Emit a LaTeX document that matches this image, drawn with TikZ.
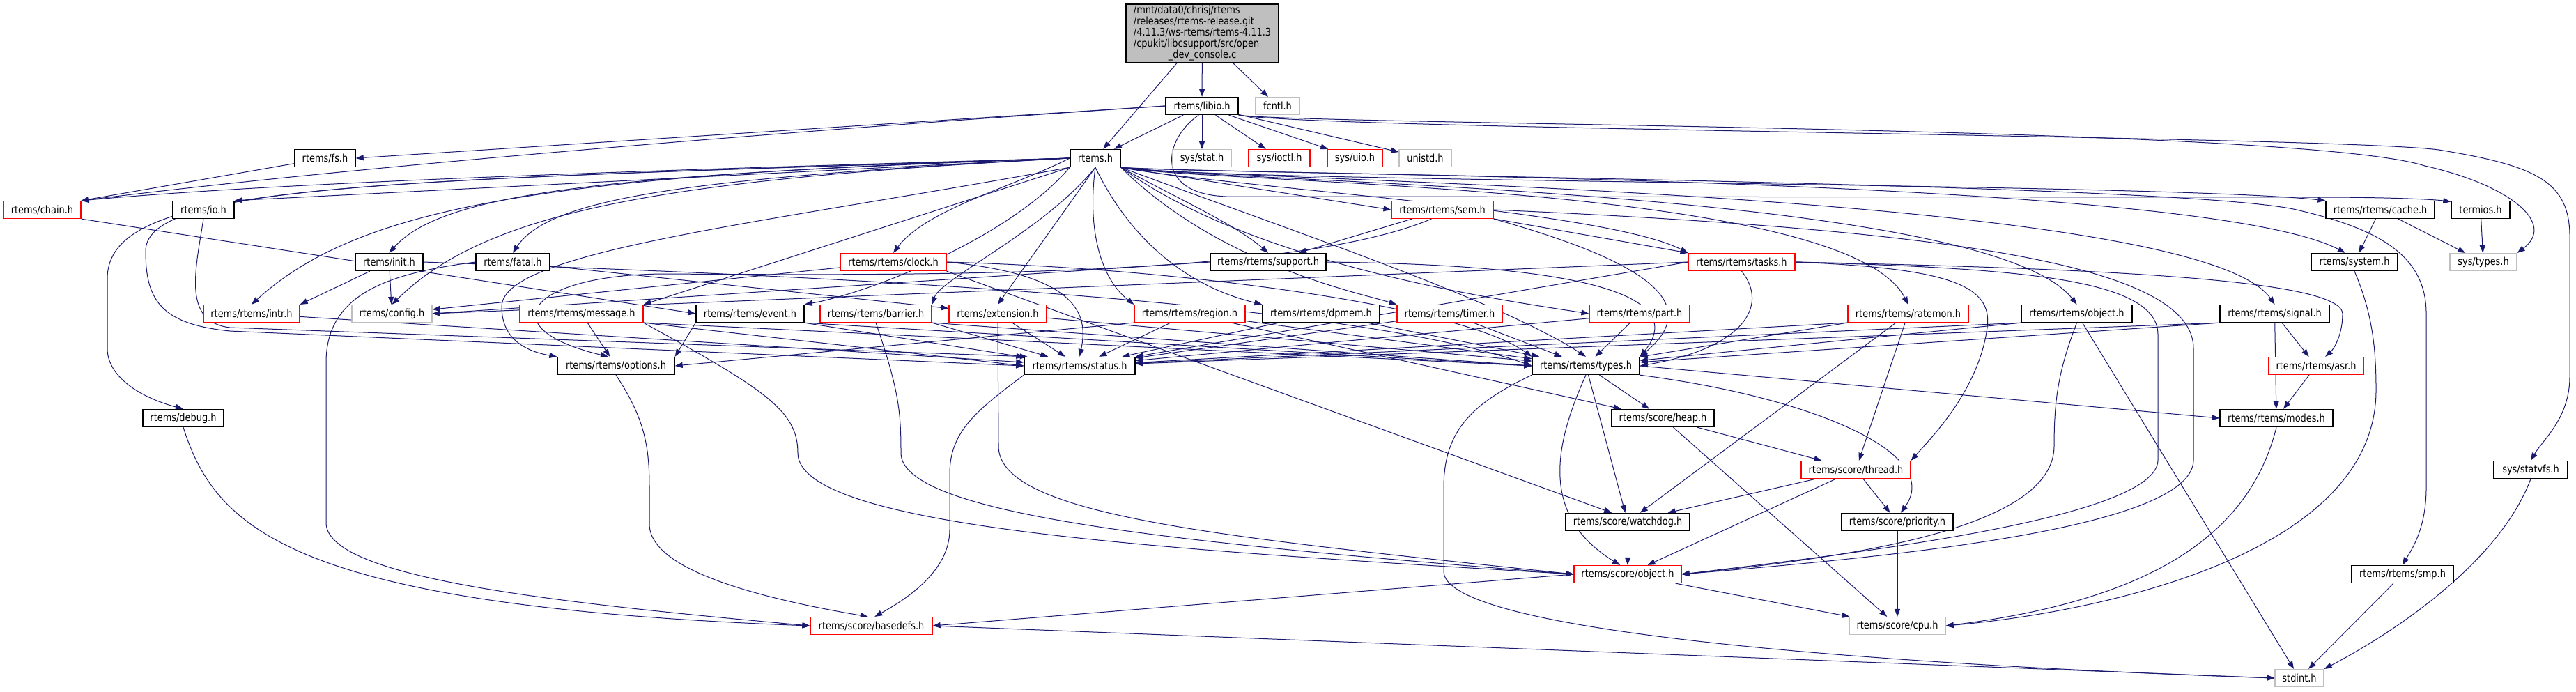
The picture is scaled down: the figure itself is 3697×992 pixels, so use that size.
\documentclass[tikz,border=0pt]{standalone}
\usepackage{fontspec}
\setmainfont{DejaVu Sans}[FakeStretch=0.85]
\usetikzlibrary{arrows.meta}
\definecolor{midnight}{RGB}{25,25,112}
\definecolor{lgray}{RGB}{191,191,191}
\definecolor{bred}{RGB}{255,0,0}
\pgfdeclarelayer{bg}
\pgfsetlayers{bg,main}
\begin{document}
\begin{tikzpicture}[x=0.5pt,y=-0.5pt,
  hdr/.style={rectangle, minimum height=12.5pt, inner sep=0pt, fill=white, text=black, font=\fontsize{7.6pt}{7.6pt}\selectfont},
  blk/.style={hdr, draw=black, line width=0.7pt},
  rdn/.style={hdr, draw=bred, line width=0.6pt},
  gry/.style={hdr, draw=lgray, line width=0.6pt},
  dep/.style={draw=midnight, line width=0.5pt, -{Triangle[length=5.5pt,width=4pt]}}]
\useasboundingbox (0,0) rectangle (3697,992);
% ---------------- nodes ----------------
\node[draw=black, line width=0.7pt, fill=lgray, minimum width=109.5pt, minimum height=42pt, inner sep=0pt,
      font=\fontsize{7.6pt}{7.5pt}\selectfont] (main) at (1725.5,48)
  {\begin{tabular}{@{}l@{}}/mnt/data0/chrisj/rtems\\/releases/rtems-release.git\\/4.11.3/ws-rtems/rtems-4.11.3\\/cpukit/libcsupport/src/open\\\multicolumn{1}{@{}c@{}}{\_dev\_console.c}\end{tabular}};
\node[blk, minimum width=52pt] (libio) at (1725,152) {rtems/libio.h};
\node[gry, minimum width=31.5pt] (fcntl) at (1833.5,152) {fcntl.h};
\node[blk, minimum width=43.5pt] (fs) at (466.5,227) {rtems/fs.h};
\node[blk, minimum width=36pt] (rtems) at (1572,227) {rtems.h};
\node[gry, minimum width=42pt] (sysstat) at (1725,227) {sys/stat.h};
\node[rdn, minimum width=44pt] (ioctl) at (1836,227) {sys/ioctl.h};
\node[rdn, minimum width=39.5pt] (uio) at (1944.5,227) {sys/uio.h};
\node[gry, minimum width=37.5pt] (unistd) at (2045.5,227) {unistd.h};
\node[rdn, minimum width=55.5pt] (chain) at (60.5,301) {rtems/chain.h};
\node[blk, minimum width=44pt] (io) at (292,301) {rtems/io.h};
\node[rdn, minimum width=73pt] (sem) at (2070,301) {rtems/rtems/sem.h};
\node[blk, minimum width=78pt] (cache) at (3416,301) {rtems/rtems/cache.h};
\node[blk, minimum width=42pt] (termios) at (3560,301) {termios.h};
\node[blk, minimum width=48.5pt] (init) at (558.5,376) {rtems/init.h};
\node[blk, minimum width=53pt] (fatal) at (736,376) {rtems/fatal.h};
\node[rdn, minimum width=76pt] (clock) at (1282,376) {rtems/rtems/clock.h};
\node[blk, minimum width=83pt] (support) at (1820,376) {rtems/rtems/support.h};
\node[rdn, minimum width=76.5pt] (tasks) at (2499.5,376) {rtems/rtems/tasks.h};
\node[blk, minimum width=62pt] (system) at (3379,376) {rtems/system.h};
\node[gry, minimum width=48pt] (systypes) at (3564,376) {sys/types.h};
\node[rdn, minimum width=69pt] (intr) at (361,450) {rtems/rtems/intr.h};
\node[gry, minimum width=57.5pt] (config) at (562.5,450) {rtems/config.h};
\node[rdn, minimum width=88.5pt] (message) at (834.5,450) {rtems/rtems/message.h};
\node[blk, minimum width=77.5pt] (event) at (1076.5,450) {rtems/rtems/event.h};
\node[rdn, minimum width=80pt] (barrier) at (1257,450) {rtems/rtems/barrier.h};
\node[rdn, minimum width=70pt] (extension) at (1432,450) {rtems/extension.h};
\node[rdn, minimum width=79.5pt] (region) at (1707.5,450) {rtems/rtems/region.h};
\node[blk, minimum width=84pt] (dpmem) at (1896,450) {rtems/rtems/dpmem.h};
\node[rdn, minimum width=75.5pt] (timer) at (2080.5,450) {rtems/rtems/timer.h};
\node[rdn, minimum width=72pt] (part) at (2353,450) {rtems/rtems/part.h};
\node[rdn, minimum width=86.5pt] (ratemon) at (2738.5,450) {rtems/rtems/ratemon.h};
\node[blk, minimum width=79.5pt] (robject) at (2980.5,450) {rtems/rtems/object.h};
\node[blk, minimum width=78.5pt] (signal) at (3264.5,450) {rtems/rtems/signal.h};
\node[blk, minimum width=84pt] (options) at (884,525) {rtems/rtems/options.h};
\node[blk, minimum width=79.5pt] (status) at (1549.5,525) {rtems/rtems/status.h};
\node[blk, minimum width=77pt] (types) at (2276,525) {rtems/rtems/types.h};
\node[rdn, minimum width=68pt] (asr) at (3324,525) {rtems/rtems/asr.h};
\node[blk, minimum width=58pt] (debug) at (263,600) {rtems/debug.h};
\node[blk, minimum width=73.5pt] (heap) at (2386.5,600) {rtems/score/heap.h};
\node[blk, minimum width=81pt] (modes) at (3267,600) {rtems/rtems/modes.h};
\node[rdn, minimum width=78.5pt] (thread) at (2663.5,674) {rtems/score/thread.h};
\node[blk, minimum width=53pt] (statvfs) at (3632,674) {sys/statvfs.h};
\node[blk, minimum width=89pt] (watchdog) at (2336,749) {rtems/score/watchdog.h};
\node[blk, minimum width=80pt] (priority) at (2723,749) {rtems/score/priority.h};
\node[rdn, minimum width=77pt] (sobject) at (2336,824) {rtems/score/object.h};
\node[blk, minimum width=73pt] (smp) at (3448,824) {rtems/rtems/smp.h};
\node[rdn, minimum width=87.5pt] (basedefs) at (1250.5,898) {rtems/score/basedefs.h};
\node[gry, minimum width=69pt] (cpu) at (2723,898) {rtems/score/cpu.h};
\node[gry, minimum width=35pt] (stdint) at (3300,973) {stdint.h};
% ---------------- edges ----------------
\begin{pgfonlayer}{bg}
% main
\draw[dep] (main) -- (libio);
\draw[dep] (main) -- (fcntl);
\draw[dep] (main) -- (rtems);
% libio
\draw[dep] (libio) -- (rtems);
\draw[dep] (libio) -- (sysstat);
\draw[dep] (libio) -- (ioctl);
\draw[dep] (libio) -- (uio);
\draw[dep] (libio) -- (unistd);
\draw[dep] (libio.west) -- (fs.east);
\draw[dep] (libio.west) .. controls (1100,190) and (500,240) .. (chain.north east);
\draw[dep] (libio.south east) .. controls (1900,180) and (3300,180) .. (3480,238) .. controls (3600,265) and (3670,320) .. (systypes.north east);
\draw[dep] (libio.south east) .. controls (1900,186) and (3350,195) .. (3500,215) .. controls (3640,238) and (3688,260) .. (3688,340) -- (3688,540) .. controls (3688,600) and (3650,630) .. (statvfs.north);
\draw[dep] (libio.250) .. controls (1670,200) and (1655,278) .. (1760,282) -- (3320,283) .. controls (3450,283) and (3500,287) .. (termios.165);
% fs
\draw[dep] (fs) -- (chain.north east);
% rtems
\draw[dep] (rtems.west) .. controls (900,245) and (400,262) .. (chain.north east);
\draw[dep] (rtems.west) -- (io.north east);
\draw[dep] (rtems.west) .. controls (900,250) and (640,272) .. (init.north);
\draw[dep] (rtems.west) .. controls (1000,255) and (790,282) .. (fatal.north);
\draw[dep] (rtems.west) .. controls (800,250) and (520,292) .. (intr.north);
\draw[dep] (rtems.west) .. controls (950,258) and (700,302) .. (config.north);
\draw[dep] (rtems.west) .. controls (500,262) and (154,260) .. (154,400) -- (154,500) .. controls (154,540) and (200,570) .. (debug.north);
\draw[dep] (rtems.west) .. controls (600,258) and (209,262) .. (209,360) .. controls (209,430) and (230,465) .. (330,475) -- (status.west);
\draw[dep] (rtems.south west) .. controls (1100,320) and (720,360) .. (720,440) .. controls (720,490) and (760,505) .. (options.north west);
\draw[dep] (rtems.south west) -- (message.north east);
\draw[dep] (rtems.west) .. controls (1450,270) and (1330,300) .. (clock.north);
\draw[dep] (rtems.south west) .. controls (1450,340) and (1250,420) .. (event.north east);
\draw[dep] (rtems.south) .. controls (1500,330) and (1350,400) .. (barrier.north east);
\draw[dep] (rtems.south) -- (extension.north);
\draw[dep] (rtems.south) .. controls (1560,330) and (1580,400) .. (region.north west);
\draw[dep] (rtems.south) .. controls (1620,340) and (1700,410) .. (dpmem.north west);
\draw[dep] (rtems.south east) .. controls (1680,280) and (1770,320) .. (support.north);
\draw[dep] (rtems.south east) .. controls (1750,380) and (1950,420) .. (timer.north west);
\draw[dep] (rtems.south east) .. controls (1800,380) and (2150,430) .. (part.west);
\draw[dep] (rtems.south east) .. controls (1850,330) and (2150,430) .. (types.north);
\draw[dep] (rtems.south east) -- (sem.west);
\draw[dep] (rtems.south east) .. controls (1750,268) and (2300,300) .. (tasks.north west);
\draw[dep] (rtems.south east) .. controls (1750,265) and (2650,262) .. (ratemon.north);
\draw[dep] (rtems.south east) .. controls (1750,262) and (2850,270) .. (robject.north);
\draw[dep] (rtems.south east) .. controls (1750,260) and (3150,272) .. (signal.north);
\draw[dep] (rtems.south east) .. controls (1750,262) and (3100,262) .. (cache.north west);
\draw[dep] (rtems.south east) .. controls (1750,252) and (3150,250) .. (system.135);
\draw[dep] (rtems.south east) .. controls (1750,250) and (3150,262) .. (3300,302) .. controls (3420,330) and (3482,370) .. (3482,450) -- (3482,700) .. controls (3482,760) and (3460,790) .. (smp.north);
% row 3 / 4 headers
\draw[dep] (chain.south east) -- (event.west);
\draw[dep] (io.south) .. controls (280,390) and (262,462) .. (330,470) -- (status.170);
\draw[dep] (init) -- (intr.north east);
\draw[dep] (init) -- (config);
\draw[dep] (init.east) .. controls (1000,390) and (1900,420) .. (types.west);
\draw[dep] (fatal.west) .. controls (560,392) and (468,420) .. (468,520) -- (468,750) .. controls (468,830) and (800,865) .. (basedefs.west);
\draw[dep] (fatal) -- (extension);
\draw[dep] (debug.south) .. controls (310,760) and (420,870) .. (basedefs.west);
\draw[dep] (intr) -- (status);
\draw[dep] (clock) -- (config);
\draw[dep] (clock.east) .. controls (1560,395) and (1560,460) .. (status.north);
\draw[dep] (clock.east) .. controls (1700,385) and (2100,440) .. (types.north west);
\draw[dep] (clock.south east) -- (watchdog.150);
\draw[dep] (sem) -- (support);
\draw[dep] (sem) -- (tasks.north west);
\draw[dep] (sem.220) .. controls (1850,400) and (1300,395) .. (950,393) .. controls (760,395) and (700,470) .. (options.130);
\draw[dep] (sem.south east) .. controls (2380,380) and (2440,440) .. (types.north east);
\draw[dep] (sem.east) .. controls (2800,330) and (3148,380) .. (3148,500) -- (3148,660) .. controls (3148,760) and (2700,800) .. (sobject.east);
\draw[dep] (support.east) .. controls (2300,380) and (2420,430) .. (types.north east);
\draw[dep] (support.west) -- (config.east);
\draw[dep] (tasks.west) -- (config.east);
\draw[dep] (tasks.west) -- (status.north east);
\draw[dep] (tasks.south) .. controls (2540,440) and (2500,500) .. (types.east);
\draw[dep] (tasks.east) .. controls (3000,385) and (3360,400) .. (3362,450) .. controls (3362,480) and (3350,500) .. (asr.45);
\draw[dep] (tasks.east) .. controls (2800,385) and (2860,410) .. (2852,470) .. controls (2840,560) and (2770,630) .. (thread.north east);
\draw[dep] (tasks.east) .. controls (2900,385) and (3097,400) .. (3097,480) -- (3097,660) .. controls (3097,740) and (2700,790) .. (sobject.east);
\draw[dep] (cache) -- (system);
\draw[dep] (cache) -- (systypes);
\draw[dep] (termios) -- (systypes);
\draw[dep] (system.south) .. controls (3405,450) and (3410,500) .. (3410,560) .. controls (3410,800) and (3000,880) .. (cpu.east);
% row 5 headers
\draw[dep] (message) -- (options);
\draw[dep] (message.south east) -- (status.west);
\draw[dep] (message.south east) -- (types.west);
\draw[dep] (message.south east) .. controls (1100,560) and (1145,590) .. (1145,650) .. controls (1145,760) and (1700,790) .. (sobject.west);
\draw[dep] (event.south west) -- (options.north east);
\draw[dep] (event.south east) -- (status);
\draw[dep] (event.south east) -- (types.west);
\draw[dep] (barrier.south east) -- (status);
\draw[dep] (barrier.south east) -- (types.west);
\draw[dep] (barrier.south) .. controls (1290,560) and (1293,590) .. (1293,650) .. controls (1293,740) and (1700,780) .. (sobject.west);
\draw[dep] (extension) -- (status);
\draw[dep] (extension) -- (types);
\draw[dep] (extension.south) -- (1433,640) .. controls (1433,740) and (1750,770) .. (sobject.west);
\draw[dep] (region.south west) -- (options.east);
\draw[dep] (region) -- (status);
\draw[dep] (region) -- (types);
\draw[dep] (region) -- (heap);
\draw[dep] (dpmem) -- (status);
\draw[dep] (dpmem) -- (types);
\draw[dep] (timer) -- (status);
\draw[dep] (timer) -- (types);
\draw[dep] (part) -- (status);
\draw[dep] (part) -- (types);
\draw[dep] (ratemon.south west) -- (status);
\draw[dep] (ratemon.south west) -- (types);
\draw[dep] (ratemon) -- (watchdog);
\draw[dep] (ratemon) -- (thread);
\draw[dep] (robject.south west) -- (status);
\draw[dep] (robject.south west) -- (types);
\draw[dep] (robject.south) .. controls (2955,530) and (2948,570) .. (2948,640) .. controls (2948,760) and (2650,800) .. (sobject.east);
\draw[dep] (robject) -- (stdint);
\draw[dep] (signal.south west) -- (status);
\draw[dep] (signal.south west) -- (types);
\draw[dep] (signal) -- (asr);
\draw[dep] (signal) -- (modes);
% row 6 and below
\draw[dep] (options.south) .. controls (925,600) and (932,640) .. (932,700) -- (932,752) .. controls (932,820) and (1100,860) .. (basedefs.110);
\draw[dep] (status.south west) .. controls (1400,590) and (1363,620) .. (1363,680) -- (1363,760) .. controls (1363,820) and (1300,860) .. (basedefs.70);
\draw[dep] (types) -- (heap);
\draw[dep] (types) -- (watchdog);
\draw[dep] (types.south) .. controls (2230,640) and (2210,740) .. (sobject.130);
\draw[dep] (types.south east) .. controls (2600,570) and (2790,650) .. (priority.70);
\draw[dep] (types.east) -- (modes.west);
\draw[dep] (types.south west) .. controls (2110,580) and (2072,620) .. (2072,700) -- (2072,820) .. controls (2072,900) and (2600,950) .. (stdint.west);
\draw[dep] (asr) -- (modes);
\draw[dep] (modes.south) .. controls (3230,760) and (3100,860) .. (cpu.east);
\draw[dep] (heap) -- (thread);
\draw[dep] (heap) -- (cpu);
\draw[dep] (thread) -- (watchdog);
\draw[dep] (thread) -- (sobject);
\draw[dep] (thread) -- (priority);
\draw[dep] (watchdog) -- (sobject);
\draw[dep] (priority) -- (cpu);
\draw[dep] (sobject.west) -- (basedefs.east);
\draw[dep] (sobject) -- (cpu);
\draw[dep] (basedefs.east) -- (stdint.west);
\draw[dep] (smp) -- (stdint);
\draw[dep] (statvfs.south) .. controls (3590,800) and (3450,900) .. (stdint.north east);
\end{pgfonlayer}
\end{tikzpicture}
\end{document}
